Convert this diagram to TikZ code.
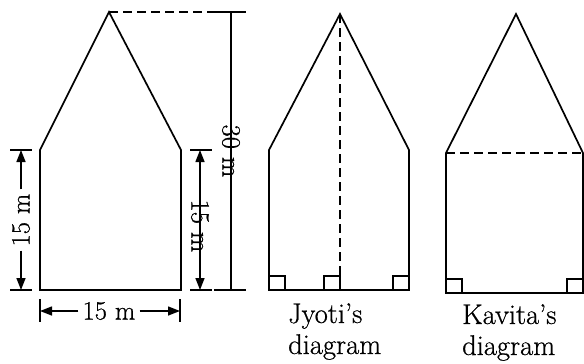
\documentclass[tikz,border=0pt]{standalone}
\usepackage{fontspec}
\newfontfamily\lblfont{Latin Modern Roman}[FakeBold=0.6,Ligatures=TeX]
\usetikzlibrary{arrows.meta}
\begin{document}
\begin{tikzpicture}[x=1pt,y=-1pt,
  shape line/.style={line width=1.7pt,line join=miter},
  dimline/.style={line width=1.4pt},
  tip/.style={-{Triangle[length=12pt,width=9pt]}},
  dashline/.style={line width=1.5pt,dash pattern=on 9pt off 5pt},
  lbl/.style={font=\lblfont\fontsize{26.5}{30}\selectfont,inner xsep=4pt,inner ysep=2pt,fill=white},
  captext/.style={font=\lblfont\fontsize{28.5}{31}\selectfont,align=left,inner sep=0pt},
  sq/.style={line width=1.4pt}]
\useasboundingbox (0,0) rectangle (584,364);
% main shape
\coordinate (A1) at (40,290); \coordinate (B1) at (181,290);
\coordinate (C1) at (181,150); \coordinate (D1) at (109,12); \coordinate (E1) at (40,150);
\draw[shape line] (A1) -- (B1) -- (C1) -- (D1) -- (E1) -- cycle;
% 30 m dimension
\coordinate (T30) at (231,12); \coordinate (B30) at (231,290);
\draw[dashline] (D1) -- (214,12);
\draw[dimline] (214,12) -- (246,12);
\draw[dimline] (214,290) -- (246,290);
\node[lbl,rotate=-90] (L30) at (231,151) {30 m};
\draw[dimline] (T30) -- (L30.east);
\draw[dimline] (L30.west) -- (B30);
% left 15 m
\draw[dimline] (10,150) -- (32,150);
\draw[dimline] (10,290) -- (32,290);
\node[lbl,rotate=90] (LL) at (21,220) {15 m};
\draw[dimline,tip] (LL.east) -- (21,150);
\draw[dimline,tip] (LL.west) -- (21,290);
% inner 15 m
\draw[dimline] (190,150) -- (212,150);
\draw[dimline] (190,290) -- (212,290);
\node[lbl,rotate=-90] (LR) at (200,226) {15 m};
\draw[dimline,tip] (LR.east) -- (200,150);
\draw[dimline,tip] (LR.west) -- (200,290);
% bottom 15 m
\draw[dimline] (40,299) -- (40,322);
\draw[dimline] (180,299) -- (180,322);
\node[lbl] (LB) at (109,311) {15 m};
\draw[dimline,tip] (LB.west) -- (40,311);
\draw[dimline,tip] (LB.east) -- (180,311);
% Jyoti
\coordinate (A2) at (269,290); \coordinate (B2) at (409,290);
\coordinate (C2) at (409,150); \coordinate (D2) at (340,14); \coordinate (E2) at (269,150);
\coordinate (M2) at (340,290);
\draw[shape line] (A2) -- (B2) -- (C2) -- (D2) -- (E2) -- cycle;
\draw[dashline] (D2) -- (M2);
\draw[sq] (269,276) rectangle (285,290);
\draw[sq] (324,276) rectangle (340,290);
\draw[sq] (393,276) rectangle (409,290);
\node[captext,anchor=north west] (J) at (288,303) {Jyoti’s\\diagram};
% Kavita
\coordinate (A3) at (446,293); \coordinate (B3) at (583,293);
\coordinate (C3) at (583,153); \coordinate (D3) at (516,14); \coordinate (E3) at (446,153);
\draw[shape line] (A3) -- (B3) -- (C3) -- (D3) -- (E3) -- cycle;
\draw[dashline] (E3) -- (C3);
\draw[sq] (446,279) rectangle (462,293);
\draw[sq] (567,279) rectangle (583,293);
\node[captext,anchor=north west] (K) at (462,304) {Kavita’s\\diagram};
\end{tikzpicture}
\end{document}
